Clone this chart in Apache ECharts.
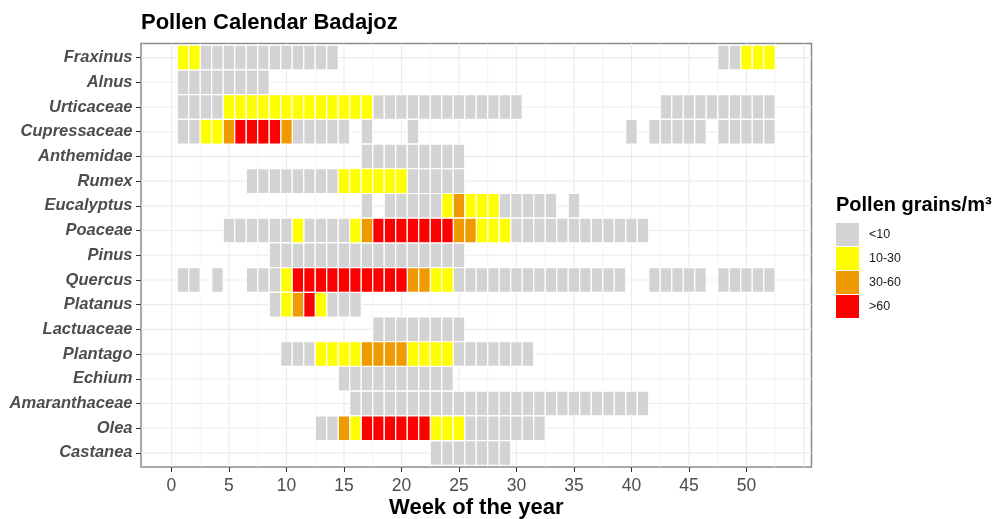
<!DOCTYPE html>
<html>
<head>
<meta charset="utf-8">
<script src="https://cdn.jsdelivr.net/npm/echarts@6/dist/echarts.min.js"></script>
<style>
  html, body { margin: 0; padding: 0; background: #ffffff; }
  #chart { width: 994px; height: 519px; }
</style>
</head>
<body>
<div id="chart"></div>
<script>
// Taxa, top to bottom
const taxa = ['Fraxinus', 'Alnus', 'Urticaceae', 'Cupressaceae', 'Anthemidae', 'Rumex',
  'Eucalyptus', 'Poaceae', 'Pinus', 'Quercus', 'Platanus', 'Lactuaceae', 'Plantago',
  'Echium', 'Amaranthaceae', 'Olea', 'Castanea'];

// Concentration classes (pollen grains/m³)
const classNames = ['<10', '10-30', '30-60', '>60'];
const classColors = ['#D3D3D3', '#FFFF00', '#EE9A00', '#FF0000'];

// Week axis tick labels
const weekTicks = [0, 5, 10, 15, 20, 25, 30, 35, 40, 45, 50];

// Weekly class per taxon, weeks 1..52
// 0 = no record, 1 = <10, 2 = 10-30, 3 = 30-60, 4 = >60
//                   wk 1-10                        11-20                          21-30                          31-40                          41-50                          51-52
const fraxinus      = [2,2,1,1,1,1,1,1,1,1, 1,1,1,1,0,0,0,0,0,0, 0,0,0,0,0,0,0,0,0,0, 0,0,0,0,0,0,0,0,0,0, 0,0,0,0,0,0,0,1,1,2, 2,2];
const alnus         = [1,1,1,1,1,1,1,1,0,0, 0,0,0,0,0,0,0,0,0,0, 0,0,0,0,0,0,0,0,0,0, 0,0,0,0,0,0,0,0,0,0, 0,0,0,0,0,0,0,0,0,0, 0,0];
const urticaceae    = [1,1,1,1,2,2,2,2,2,2, 2,2,2,2,2,2,2,1,1,1, 1,1,1,1,1,1,1,1,1,1, 0,0,0,0,0,0,0,0,0,0, 0,0,1,1,1,1,1,1,1,1, 1,1];
const cupressaceae  = [1,1,2,2,3,4,4,4,4,3, 1,1,1,1,1,0,1,0,0,0, 1,0,0,0,0,0,0,0,0,0, 0,0,0,0,0,0,0,0,0,1, 0,1,1,1,1,1,0,1,1,1, 1,1];
const anthemidae    = [0,0,0,0,0,0,0,0,0,0, 0,0,0,0,0,0,1,1,1,1, 1,1,1,1,1,0,0,0,0,0, 0,0,0,0,0,0,0,0,0,0, 0,0,0,0,0,0,0,0,0,0, 0,0];
const rumex         = [0,0,0,0,0,0,1,1,1,1, 1,1,1,1,2,2,2,2,2,2, 1,1,1,1,1,0,0,0,0,0, 0,0,0,0,0,0,0,0,0,0, 0,0,0,0,0,0,0,0,0,0, 0,0];
const eucalyptus    = [0,0,0,0,0,0,0,0,0,0, 0,0,0,0,0,0,1,0,1,1, 1,1,1,2,3,2,2,2,1,1, 1,1,1,0,1,0,0,0,0,0, 0,0,0,0,0,0,0,0,0,0, 0,0];
const poaceae       = [0,0,0,0,1,1,1,1,1,1, 2,1,1,1,1,2,3,4,4,4, 4,4,4,4,3,3,2,2,2,1, 1,1,1,1,1,1,1,1,1,1, 1,0,0,0,0,0,0,0,0,0, 0,0];
const pinus         = [0,0,0,0,0,0,0,0,1,1, 1,1,1,1,1,1,1,1,1,1, 1,1,1,1,1,0,0,0,0,0, 0,0,0,0,0,0,0,0,0,0, 0,0,0,0,0,0,0,0,0,0, 0,0];
const quercus       = [1,1,0,1,0,0,1,1,1,2, 4,4,4,4,4,4,4,4,4,4, 3,3,2,2,1,1,1,1,1,1, 1,1,1,1,1,1,1,1,1,0, 0,1,1,1,1,1,0,1,1,1, 1,1];
const platanus      = [0,0,0,0,0,0,0,0,1,2, 3,4,2,1,1,1,0,0,0,0, 0,0,0,0,0,0,0,0,0,0, 0,0,0,0,0,0,0,0,0,0, 0,0,0,0,0,0,0,0,0,0, 0,0];
const lactuaceae    = [0,0,0,0,0,0,0,0,0,0, 0,0,0,0,0,0,0,1,1,1, 1,1,1,1,1,0,0,0,0,0, 0,0,0,0,0,0,0,0,0,0, 0,0,0,0,0,0,0,0,0,0, 0,0];
const plantago      = [0,0,0,0,0,0,0,0,0,1, 1,1,2,2,2,2,3,3,3,3, 2,2,2,2,1,1,1,1,1,1, 1,0,0,0,0,0,0,0,0,0, 0,0,0,0,0,0,0,0,0,0, 0,0];
const echium        = [0,0,0,0,0,0,0,0,0,0, 0,0,0,0,1,1,1,1,1,1, 1,1,1,1,0,0,0,0,0,0, 0,0,0,0,0,0,0,0,0,0, 0,0,0,0,0,0,0,0,0,0, 0,0];
const amaranthaceae = [0,0,0,0,0,0,0,0,0,0, 0,0,0,0,0,1,1,1,1,1, 1,1,1,1,1,1,1,1,1,1, 1,1,1,1,1,1,1,1,1,1, 1,0,0,0,0,0,0,0,0,0, 0,0];
const olea          = [0,0,0,0,0,0,0,0,0,0, 0,0,1,1,3,2,4,4,4,4, 4,4,2,2,2,1,1,1,1,1, 1,1,0,0,0,0,0,0,0,0, 0,0,0,0,0,0,0,0,0,0, 0,0];
const castanea      = [0,0,0,0,0,0,0,0,0,0, 0,0,0,0,0,0,0,0,0,0, 0,0,1,1,1,1,1,1,1,0, 0,0,0,0,0,0,0,0,0,0, 0,0,0,0,0,0,0,0,0,0, 0,0];

const weeklyClasses = [fraxinus, alnus, urticaceae, cupressaceae, anthemidae, rumex,
  eucalyptus, poaceae, pinus, quercus, platanus, lactuaceae, plantago, echium,
  amaranthaceae, olea, castanea];

const FONT = '"Liberation Sans", Arial, Helvetica, sans-serif';

// One list of [week, row] tiles per concentration class
const tilesByClass = classNames.map(() => []);
weeklyClasses.forEach((weeks, row) => {
  weeks.forEach((cls, i) => {
    if (cls > 0) tilesByClass[cls - 1].push([i + 1, row]);
  });
});

// Panel grid lines (major and minor breaks on the week axis, one per taxon row)
const gridLines = [];
for (let v = 0; v <= 55; v += 5) gridLines.push([v, 0, 1]);
for (let v = -2.5; v <= 55; v += 5) gridLines.push([v, 0, 0]);
taxa.forEach((t, i) => gridLines.push([i, 1, 1]));

function renderGridLine(params, api) {
  const cs = params.coordSys;
  const v = api.value(0);
  const horizontal = api.value(1) === 1;
  const major = api.value(2) === 1;
  let shape;
  if (horizontal) {
    const y = api.coord([0, v])[1];
    shape = { x1: cs.x, y1: y, x2: cs.x + cs.width, y2: y };
  } else {
    const x = api.coord([v, 0])[0];
    shape = { x1: x, y1: cs.y, x2: x, y2: cs.y + cs.height };
  }
  return {
    type: 'line',
    shape: shape,
    style: { stroke: major ? '#EBEBEB' : '#F3F3F3', lineWidth: major ? 1.1 : 0.8 }
  };
}

function renderTile(params, api) {
  const w = api.value(0);
  const r = api.value(1);
  const a = api.coord([w - 0.5, r - 0.5]);
  const b = api.coord([w + 0.5, r + 0.5]);
  return {
    type: 'rect',
    shape: {
      x: Math.min(a[0], b[0]),
      y: Math.min(a[1], b[1]),
      width: Math.abs(b[0] - a[0]),
      height: Math.abs(b[1] - a[1])
    },
    style: { fill: api.visual('color'), stroke: '#FFFFFF', lineWidth: 1.2 }
  };
}

const series = [{
  name: 'grid',
  type: 'custom',
  renderItem: renderGridLine,
  data: gridLines,
  silent: true,
  z: 1,
  encode: { x: -1, y: -1 }
}];
classNames.forEach((name, k) => {
  series.push({
    name: name,
    type: 'custom',
    renderItem: renderTile,
    data: tilesByClass[k],
    itemStyle: { color: classColors[k] },
    z: 2
  });
});

const chart = echarts.init(document.getElementById('chart'), null, { renderer: 'canvas' });
chart.setOption({
  animation: false,
  backgroundColor: '#FFFFFF',
  textStyle: { fontFamily: FONT },
  title: [{
    text: 'Pollen Calendar Badajoz',
    left: 141, top: 12, padding: 0,
    textStyle: { fontFamily: FONT, fontSize: 22, fontWeight: 'bold', color: '#000000' }
  }, {
    text: 'Pollen grains/m³',
    left: 836, top: 195, padding: 0,
    textStyle: { fontFamily: FONT, fontSize: 20, fontWeight: 'bold', color: '#000000' }
  }],
  legend: {
    data: classNames.map((n, k) => ({ name: n, itemStyle: { color: classColors[k], borderWidth: 0 } })),
    orient: 'vertical',
    left: 836, top: 223, padding: 0,
    itemWidth: 23, itemHeight: 23, itemGap: 1,
    icon: 'rect',
    selectedMode: false,
    textStyle: { fontFamily: FONT, fontSize: 12.5, color: '#1A1A1A', padding: [0, 0, 0, 5] }
  },
  grid: {
    left: 141, top: 43.5, width: 670.5, height: 423.5,
    show: true, borderColor: '#8C8C8C', borderWidth: 1.5, backgroundColor: '#FFFFFF',
    containLabel: false,
    outerBoundsMode: 'none'
  },
  xAxis: {
    type: 'value',
    position: 'bottom',
    min: -2.65, max: 55.65,
    name: 'Week of the year',
    nameLocation: 'middle',
    nameGap: 30,
    nameMoveOverlap: false,
    nameTextStyle: { fontFamily: FONT, fontSize: 22, fontWeight: 'bold', color: '#000000' },
    axisLine: { show: false, onZero: false },
    axisTick: { show: true, length: 5, customValues: weekTicks, lineStyle: { color: '#333333', width: 1 } },
    axisLabel: { customValues: weekTicks, margin: 10, fontFamily: FONT, fontSize: 17.5, color: '#4D4D4D' },
    splitLine: { show: false }
  },
  yAxis: {
    type: 'value',
    position: 'left',
    inverse: true,
    min: -0.57, max: 16.57,
    axisLine: { show: false, onZero: false },
    axisTick: { show: true, length: 5, customValues: taxa.map((t, i) => i), lineStyle: { color: '#333333', width: 1 } },
    axisLabel: {
      customValues: taxa.map((t, i) => i),
      formatter: v => taxa[Math.round(v)] || '',
      margin: 8.5,
      fontFamily: FONT, fontSize: 16.5, fontWeight: 'bold', fontStyle: 'italic', color: '#4D4D4D'
    },
    splitLine: { show: false }
  },
  series: series
});
</script>
</body>
</html>
